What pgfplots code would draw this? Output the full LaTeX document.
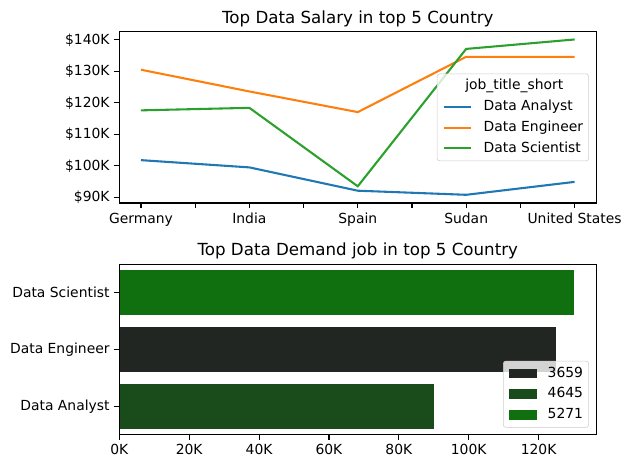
\documentclass[border=0pt]{standalone}
\usepackage{pgfplots}
\pgfplotsset{compat=1.18}
\usepackage{fontspec}
\setmainfont{DejaVu Sans}
\definecolor{tabblue}{HTML}{1F77B4}
\definecolor{taborange}{HTML}{FF7F0E}
\definecolor{tabgreen}{HTML}{2CA02C}
\definecolor{cA}{HTML}{222622}
\definecolor{cB}{HTML}{1A4B1A}
\definecolor{cC}{HTML}{107010}
\pgfplotsset{
  mpl/.style={
    scale only axis,
    width=343.4bp,
    anchor=south west,
    axis line style={black, line width=0.8bp},
    tick style={black, line width=0.8bp},
    major tick length=3.5bp,
    minor tick length=3.5bp,
    tick align=outside,
    xtick pos=bottom,
    ytick pos=left,
    /pgf/number format/assume math mode=true,
    tick label style={font=\fontsize{10bp}{12bp}\selectfont},
    title style={font=\fontsize{12bp}{14.4bp}\selectfont, at={(0.5,1)}, anchor=base, yshift=0bp, inner sep=0pt},
    legend cell align=left,
  },
  mpllegend/.style={
    draw=black!20, rounded corners=2bp, fill=white, fill opacity=0.8, text opacity=1,
    draw opacity=1,
    inner sep=4bp, row sep=4.9bp, column sep=8bp,
    font=\fontsize{10bp}{12bp}\selectfont,
    nodes={inner sep=0pt, text height=7.6bp, text depth=2.4bp},
  },
  linelegend/.style={legend image code/.code={\draw[##1, sharp corners, draw opacity=1] (0bp,0bp) -- (20bp,0bp);}},
  mybar/.style={xbar, bar width=0.8, bar shift=0pt, draw=none, fill=#1,
    legend image code/.code={\path[fill=#1, fill opacity=1, sharp corners] (0bp,-3.5bp) rectangle (20bp,3.5bp);}},
}
\begin{document}
\begin{tikzpicture}[font=\fontsize{10bp}{12bp}\selectfont]
\useasboundingbox (0,0) rectangle (453.6bp,337.68bp);
\begin{axis}[mpl,
  at={(85.9bp,191.5bp)},
  height=123.3bp,
  title={Top Data Salary in top 5 Country},
  xmin=-0.2, xmax=4.2,
  ymin=88.19, ymax=142.54,
  xtick={0,1,2,3,4},
  xticklabels={Germany,India,Spain,Sudan,United States},
  minor xtick={0.5,1.5,2.5,3.5},
  ytick={90,100,110,120,130,140},
  yticklabels={\$90K,\$100K,\$110K,\$120K,\$130K,\$140K},
  legend style={mpllegend, at={(axis description cs:0.9846,0.5)}, anchor=east},
  linelegend,
]
\addlegendimage{empty legend}
\addlegendentry{\hspace*{-13.2bp}job\_title\_short}
\addplot[tabblue, line width=1.5bp] coordinates {(0,101.8) (1,99.5) (2,92.1) (3,90.8) (4,94.9)};
\addlegendentry{Data Analyst}
\addplot[taborange, line width=1.5bp] coordinates {(0,130.5) (1,123.6) (2,117.05) (3,134.6) (4,134.6)};
\addlegendentry{Data Engineer}
\addplot[tabgreen, line width=1.5bp] coordinates {(0,117.6) (1,118.4) (2,93.5) (3,137.1) (4,140.1)};
\addlegendentry{Data Scientist}
\end{axis}
\begin{axis}[mpl,
  at={(85.9bp,24.7bp)},
  height=122.7bp,
  axis on top,
  title={Top Data Demand job in top 5 Country},
  xmin=0, xmax=136.5,
  ymin=-0.5, ymax=2.5,
  xtick={0,20,40,60,80,100,120},
  xticklabels={0K,20K,40K,60K,80K,100K,120K},
  ytick={0,1,2},
  yticklabels={Data Analyst,Data Engineer,Data Scientist},
  legend style={mpllegend, at={(axis description cs:0.9846,0.041)}, anchor=south east},
]
\addplot[mybar=cA] coordinates {(125,1)};
\addlegendentry{3659}
\addplot[mybar=cB] coordinates {(90,0)};
\addlegendentry{4645}
\addplot[mybar=cC] coordinates {(130,2)};
\addlegendentry{5271}
\end{axis}
\end{tikzpicture}
\end{document}
